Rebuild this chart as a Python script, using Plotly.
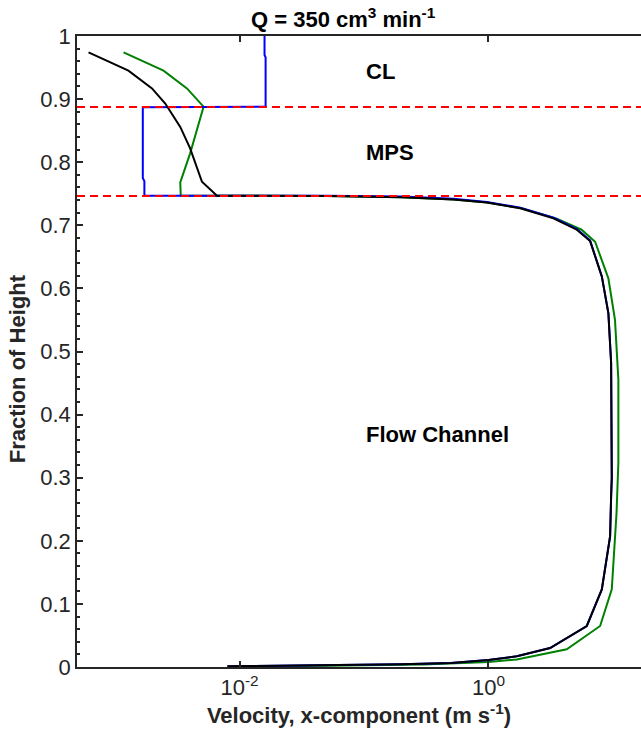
import plotly.graph_objects as go

# ---- data ----
black_x = [6.12e-4, 1.28e-3, 1.98e-3, 2.53e-3, 3.34e-3, 4.01e-3, 4.99e-3, 6.59e-3,
           0.05, 0.2, 0.524, 0.97, 1.80, 3.33, 5.13, 6.56, 8.15, 9.2, 9.68, 9.8,
           9.8, 9.68, 9.5, 8.15, 6.17, 3.13, 1.69, 1.0, 0.5, 0.2, 0.05, 0.008]
black_y = [0.974, 0.945, 0.917, 0.893, 0.856, 0.822, 0.769, 0.747,
           0.7465, 0.7446, 0.741, 0.736, 0.727, 0.711, 0.693, 0.675, 0.619, 0.561, 0.482, 0.376,
           0.300, 0.270, 0.207, 0.123, 0.065, 0.030, 0.017, 0.011, 0.0065, 0.0045, 0.0025, 0.001]

green_x = [1.17e-3, 2.45e-3, 3.78e-3, 5.14e-3, 4.01e-3, 3.34e-3, 3.37e-3,
           0.05, 0.2, 0.524, 0.98, 1.85, 3.5, 5.6, 7.2, 9.2, 10.4, 11.07,
           11.07, 10.7, 9.8, 7.9, 4.26, 1.69, 1.0, 0.3, 0.05, 0.013]
green_y = [0.974, 0.945, 0.917, 0.888, 0.814, 0.768, 0.747,
           0.7465, 0.7446, 0.741, 0.736, 0.727, 0.711, 0.693, 0.674, 0.616, 0.550, 0.455,
           0.324, 0.244, 0.123, 0.065, 0.028, 0.012, 0.008, 0.004, 0.002, 0.001]

blue_x = [0.01588, 0.01588, 0.0162, 0.0162, 1.67e-3, 1.67e-3, 1.72e-3, 1.72e-3,
          0.05, 0.2, 0.524, 0.97, 1.80, 3.33, 5.13, 6.56, 8.15, 9.2, 9.68, 9.8,
          9.8, 9.68, 9.5, 8.15, 6.17, 3.13, 1.69, 1.0, 0.5, 0.2, 0.05, 0.008]
blue_y = [1.0, 0.970, 0.966, 0.888, 0.887, 0.775, 0.770, 0.747,
          0.7470, 0.7455, 0.742, 0.737, 0.728, 0.712, 0.694, 0.676, 0.619, 0.561, 0.482, 0.376,
          0.300, 0.270, 0.207, 0.123, 0.065, 0.030, 0.017, 0.011, 0.0065, 0.0045, 0.0025, 0.001]

layer_bounds = [0.8876, 0.7466]
layer_labels = ["CL", "MPS", "Flow Channel"]
layer_label_y = [0.943, 0.815, 0.368]

x_tickvals = [0.01, 1]
x_ticktext = ["10<sup>-2</sup>", "10<sup>0</sup>"]

XMIN, XMAX = -3.306, 1.226
FONT = "Liberation Sans, Arial, Helvetica, sans-serif"
AX = "#262626"
FS = 22

fig = go.Figure()
fig.add_trace(go.Scatter(x=green_x, y=green_y, mode="lines",
                         line=dict(color="#008000", width=2), showlegend=False))
fig.add_trace(go.Scatter(x=blue_x, y=blue_y, mode="lines",
                         line=dict(color="#0000ff", width=2), showlegend=False))
fig.add_trace(go.Scatter(x=black_x, y=black_y, mode="lines",
                         line=dict(color="#000000", width=2), showlegend=False))
for yb in layer_bounds:
    fig.add_trace(go.Scatter(x=[10**XMIN, 10**XMAX], y=[yb, yb], mode="lines",
                             line=dict(color="#ff0000", width=2, dash="8px,5px"),
                             showlegend=False))

for lab, ly in zip(layer_labels, layer_label_y):
    fig.add_annotation(x=-1, y=ly, xref="x", yref="y", text="<b>%s</b>" % lab,
                       showarrow=False, xanchor="left", yanchor="middle",
                       font=dict(family=FONT, size=FS, color="#000000"))

fig.add_annotation(x=0.473, y=1, xref="paper", yref="paper", yshift=2,
                   text="<b>Q = 350 cm<sup>3</sup> min<sup>-1</sup></b>",
                   showarrow=False, xanchor="center", yanchor="bottom",
                   font=dict(family=FONT, size=FS, color="#000000"))

# y-axis title (placed as in the reference, slightly below the axis centre)
fig.add_annotation(x=-0.1055, y=0.4727, xref="paper", yref="paper",
                   text="<b>Fraction of Height</b>", textangle=-90,
                   showarrow=False, xanchor="center", yanchor="middle",
                   font=dict(family=FONT, size=FS, color=AX))

fig.update_layout(
    width=641, height=743,
    margin=dict(l=77, r=0, t=36, b=76),
    paper_bgcolor="white", plot_bgcolor="white",
    font=dict(family=FONT, size=FS, color=AX),
    xaxis=dict(type="log", range=[XMIN, XMAX], tickvals=x_tickvals, ticktext=x_ticktext,
               ticks="inside", ticklen=6, tickwidth=1.5, tickcolor=AX,
               showline=True, linecolor=AX, linewidth=1.5, mirror="ticks",
               showgrid=False, zeroline=False,
               tickfont=dict(family=FONT, size=FS, color=AX),
               title=dict(text="<b>Velocity, x-component (m s<sup>-1</sup>)</b>",
                          font=dict(family=FONT, size=FS, color=AX), standoff=4)),
    yaxis=dict(range=[0, 1], dtick=0.1, tick0=0,
               ticks="inside", ticklen=6, tickwidth=1.5, tickcolor=AX,
               minor=dict(dtick=0.02, ticklen=3, tickwidth=1.5, tickcolor=AX, ticks="inside"),
               showline=True, linecolor=AX, linewidth=1.5, mirror=False,
               showgrid=False, zeroline=False,
               tickfont=dict(family=FONT, size=FS, color=AX)),
)

fig.write_html("out.html")
